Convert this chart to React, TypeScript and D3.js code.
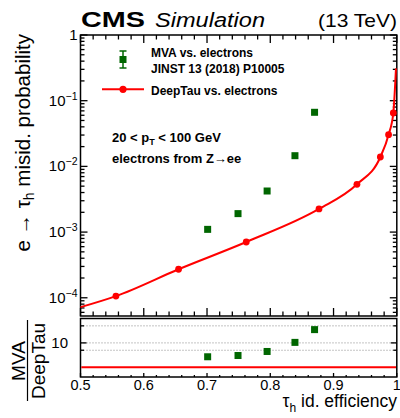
import React, { useEffect, useRef } from "react";
import * as d3 from "d3";

// MVA vs. electrons (JINST 13 (2018) P10005)
const mvaEff = [0.701, 0.749, 0.795, 0.839, 0.87];
const mvaMisid = [1.1e-3, 1.91e-3, 4.22e-3, 0.01455, 0.0666];
const mvaRatio = [2.7, 3.04, 4.45, 10.5, 35];

// DeepTau vs. electrons, markers
const deepEff = [0.556, 0.655, 0.762, 0.877, 0.937, 0.974, 0.987, 0.9945];
const deepMisid = [1.06e-4, 2.72e-4, 7.07e-4, 2.25e-3, 5.34e-3, 0.0139, 0.0304, 0.065];

// DeepTau full curve (markers plus the visible ends of the line)
const curveEff = [0.5, 0.556, 0.655, 0.762, 0.877, 0.937, 0.974, 0.987, 0.9945, 0.9987];
const curveMisid = [7.2e-5, 1.06e-4, 2.72e-4, 7.07e-4, 2.25e-3, 5.34e-3, 0.0139, 0.0304, 0.065, 0.31];

const xTickLabels = ["0.5", "0.6", "0.7", "0.8", "0.9", "1"];
const yDecades = [1e-4, 1e-3, 1e-2, 1e-1, 1];
const yExponents = ["\u22124", "\u22123", "\u22122", "\u22121", ""];
const ratioGrid = [5, 10, 50];
const ratioLabels = ["", "10", ""];

const FONT = "'Liberation Sans', Arial, Helvetica, sans-serif";
const GREEN = "#006600";
const RED = "#ff0000";

function drawChart(el: SVGSVGElement) {
  const svg = d3.select(el);
  svg.selectAll("*").remove();
  svg.attr("font-family", FONT);

  const left = 80.5, right = 396.8;
  const top = 35, mainBottom = 316;
  const ratioTop = 318.5, ratioBottom = 377;

  const x = d3.scaleLinear().domain([0.5, 1]).range([left, right]);
  const y = d3.scaleLog().domain([5.28e-5, 1]).range([mainBottom, top]);
  const r = d3.scaleLog().domain([0.4, 100]).range([ratioBottom, ratioTop]);

  const g = svg.append("g");

  // ratio grid
  g.selectAll("line.grid")
    .data(ratioGrid)
    .enter().append("line")
    .attr("x1", left).attr("x2", right)
    .attr("y1", d => r(d)).attr("y2", d => r(d))
    .attr("stroke", "#888").attr("stroke-width", 1)
    .attr("stroke-dasharray", "1,2");

  // ticks main x
  const minorX = x.ticks(25);
  const majorX = x.ticks(5);
  const tick = (x1: number, y1: number, x2: number, y2: number) =>
    g.append("line").attr("x1", x1).attr("y1", y1).attr("x2", x2).attr("y2", y2)
      .attr("stroke", "#000").attr("stroke-width", 1.3);

  minorX.forEach(v => {
    const isMajor = majorX.some(m => Math.abs(m - v) < 1e-9);
    const len = isMajor ? 8 : 4.5;
    tick(x(v), mainBottom, x(v), mainBottom - len);
    tick(x(v), top, x(v), top + len);
    tick(x(v), ratioBottom, x(v), ratioBottom - (isMajor ? 4 : 2));
  });

  // ticks main y (log)
  y.ticks().forEach(v => {
    const isMajor = Math.abs(Math.log10(v) - Math.round(Math.log10(v))) < 1e-6;
    const len = isMajor ? 7 : 4;
    tick(left, y(v), left + len, y(v));
    tick(right, y(v), right - len, y(v));
  });

  // ratio y ticks
  ratioGrid.forEach(v => {
    const len = v === 10 ? 6 : 3.5;
    tick(left, r(v), left + len, r(v));
    tick(right, r(v), right - len, r(v));
  });

  // frames
  g.append("rect").attr("x", left).attr("y", top)
    .attr("width", right - left).attr("height", mainBottom - top)
    .attr("fill", "none").attr("stroke", "#000").attr("stroke-width", 1.5);
  g.append("rect").attr("x", left).attr("y", ratioTop)
    .attr("width", right - left).attr("height", ratioBottom - ratioTop)
    .attr("fill", "none").attr("stroke", "#000").attr("stroke-width", 1.5);

  // x tick labels
  g.selectAll("text.xl")
    .data(majorX)
    .enter().append("text")
    .attr("x", d => x(d)).attr("y", 389.5)
    .attr("text-anchor", "middle").attr("font-size", 14.5)
    .text((d, i) => xTickLabels[i]);

  // y tick labels
  yDecades.forEach((v, i) => {
    const t = g.append("text").attr("y", y(v) + 5).attr("font-size", 15)
      .attr("text-anchor", "end");
    if (yExponents[i] === "") {
      t.attr("x", 77.5).text("1");
    } else {
      t.attr("x", 77.5);
      t.append("tspan").text("10");
      t.append("tspan").attr("font-size", 10.5).attr("dy", -6).text(yExponents[i]);
    }
  });

  // ratio labels
  ratioGrid.forEach((v, i) => {
    if (!ratioLabels[i]) return;
    g.append("text").attr("x", 68).attr("y", r(v) + 5.5)
      .attr("text-anchor", "end").attr("font-size", 15).text(ratioLabels[i]);
  });

  // DeepTau curve
  const pts: [number, number][] = curveEff.map((e, i) => [x(e), y(curveMisid[i])]);
  g.append("path")
    .attr("d", d3.line().curve(d3.curveMonotoneX)(pts))
    .attr("fill", "none").attr("stroke", RED).attr("stroke-width", 2);

  g.selectAll("circle.deep")
    .data(deepEff)
    .enter().append("circle")
    .attr("cx", d => x(d)).attr("cy", (d, i) => y(deepMisid[i]))
    .attr("r", 3.4).attr("fill", RED);

  // MVA squares
  const sq = 7;
  g.selectAll("rect.mva")
    .data(mvaEff)
    .enter().append("rect")
    .attr("x", d => x(d) - sq / 2).attr("y", (d, i) => y(mvaMisid[i]) - sq / 2)
    .attr("width", sq).attr("height", sq).attr("fill", GREEN);

  // ratio panel
  g.append("line").attr("x1", left + 0.8).attr("x2", right - 0.8)
    .attr("y1", r(1)).attr("y2", r(1))
    .attr("stroke", RED).attr("stroke-width", 2);
  g.selectAll("rect.ratio")
    .data(mvaEff)
    .enter().append("rect")
    .attr("x", d => x(d) - sq / 2).attr("y", (d, i) => r(mvaRatio[i]) - sq / 2)
    .attr("width", sq).attr("height", sq).attr("fill", GREEN);

  // legend
  g.append("line").attr("x1", 123).attr("x2", 123).attr("y1", 51).attr("y2", 68)
    .attr("stroke", GREEN).attr("stroke-width", 1.5);
  [51, 68].forEach(yy => g.append("line").attr("x1", 119.5).attr("x2", 126.5)
    .attr("y1", yy).attr("y2", yy).attr("stroke", GREEN).attr("stroke-width", 1.5));
  g.append("rect").attr("x", 123 - sq / 2).attr("y", 59.5 - sq / 2)
    .attr("width", sq).attr("height", sq).attr("fill", GREEN);
  g.append("line").attr("x1", 102).attr("x2", 144).attr("y1", 89.3).attr("y2", 89.3)
    .attr("stroke", RED).attr("stroke-width", 2);
  g.append("circle").attr("cx", 123).attr("cy", 89.3).attr("r", 3.6).attr("fill", RED);

  const legendText = [["MVA vs. electrons", 57.3], ["JINST 13 (2018) P10005", 73.3], ["DeepTau vs. electrons", 95]];
  legendText.forEach(([s, yy]) => {
    g.append("text").attr("x", 151).attr("y", yy as number)
      .attr("font-size", 12).attr("font-weight", "bold").text(s as string);
  });

  // selection text
  const t1 = g.append("text").attr("x", 112).attr("y", 142)
    .attr("font-size", 13).attr("font-weight", "bold");
  t1.append("tspan").text("20 < p");
  t1.append("tspan").attr("font-size", 9).attr("dy", 3).text("T");
  t1.append("tspan").attr("dy", -3).text(" < 100 GeV");
  g.append("text").attr("x", 112).attr("y", 163)
    .attr("font-size", 13).attr("font-weight", "bold")
    .text("electrons from Z\u2192ee");

  // header
  g.append("text").attr("x", 81).attr("y", 27).attr("font-size", 22)
    .attr("font-weight", "bold").attr("textLength", 64)
    .attr("lengthAdjust", "spacingAndGlyphs").text("CMS");
  g.append("text").attr("x", 155).attr("y", 27).attr("font-size", 20)
    .attr("font-style", "italic").attr("textLength", 110)
    .attr("lengthAdjust", "spacingAndGlyphs").text("Simulation");
  g.append("text").attr("x", 318).attr("y", 27).attr("font-size", 19)
    .attr("textLength", 79)
    .attr("lengthAdjust", "spacingAndGlyphs").text("(13 TeV)");

  // y title
  const yt = g.append("text").attr("transform", "translate(29.5,34) rotate(-90)")
    .attr("text-anchor", "end").attr("font-size", 20.5);
  yt.append("tspan").text("e \u2192 \u03c4");
  yt.append("tspan").attr("font-size", 14).attr("dy", 4).text("h");
  yt.append("tspan").attr("dy", -4).text(" misid. probability");

  // ratio title
  g.append("text").attr("transform", "translate(25,361) rotate(-90)")
    .attr("text-anchor", "middle").attr("font-size", 19).text("MVA");
  g.append("line").attr("x1", 27.5).attr("x2", 27.5).attr("y1", 320).attr("y2", 401)
    .attr("stroke", "#000").attr("stroke-width", 1.2);
  g.append("text").attr("transform", "translate(44.5,361) rotate(-90)")
    .attr("text-anchor", "middle").attr("font-size", 19).text("DeepTau");

  // x title
  const xt = g.append("text").attr("x", 397).attr("y", 407)
    .attr("text-anchor", "end").attr("font-size", 17.5);
  xt.append("tspan").text("\u03c4");
  xt.append("tspan").attr("font-size", 12).attr("dy", 5).text("h");
  xt.append("tspan").attr("dy", -5).text(" id. efficiency");
}

export default function App() {
  const ref = useRef<SVGSVGElement>(null);
  useEffect(() => {
    if (ref.current) drawChart(ref.current);
  }, []);
  return (
    <svg ref={ref} width={400} height={418}
      style={{ position: "absolute", left: 0, top: 0, background: "#fff" }} />
  );
}
